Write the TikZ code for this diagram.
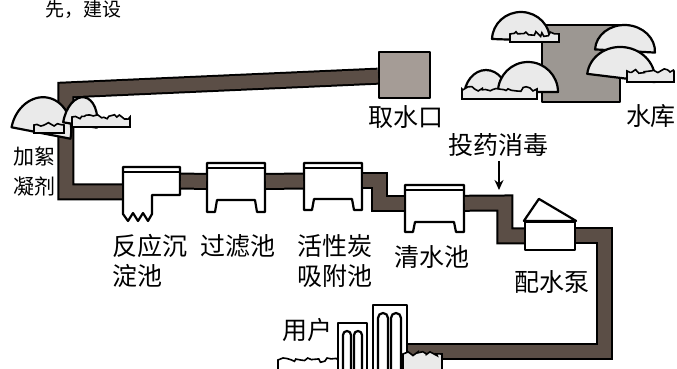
\documentclass[tikz,border=0pt]{standalone}
\usepackage{fontspec}
\newfontfamily\cjk{Noto Sans CJK SC}
\usetikzlibrary{arrows.meta, positioning, fit, decorations.pathmorphing}

\definecolor{brunTuyau}{HTML}{5B4E46}
\definecolor{grisPrise}{HTML}{A59C96}
\definecolor{grisLac}{HTML}{9C9792}
\definecolor{grisColline}{HTML}{EAEAEA}

% bassin : nom, x gauche, x droite, y haut, y fond, y bas des pieds
\newcommand{\bassin}[6]{%
	\filldraw[contour, fill=white] (#2,#4) -- (#2,#6) -- ++(8,0) -- (#2+10,#5)
		-- (#3-10,#5) -- (#3-8,#6) -- (#3,#6) -- (#3,#4) -- cycle;
	\draw[contour] (#2,#4+5) -- (#3,#4+5);
	\node[corps, fit={(#2,#4) (#3,#5)}] (#1) {};
}
% colline : centre x, base y, rayon x, rayon y, inclinaison
\newcommand{\colline}[5]{%
	\filldraw[contour, fill=grisColline, rotate around={-#5:(#1,#2)}] (#1-#3,#2)
		arc[start angle=180, end angle=360, x radius=#3, y radius=#4] -- cycle;
}
% buissons : x debut, x fin, base y, hauteur, couleur
\newcommand{\buissons}[5]{%
	\filldraw[buisson, fill=#5] (#1,#3) -- (#1,#3-#4)
		decorate{-- (#2,#3-#4)} -- (#2,#3) -- cycle;
}
% arche : x gauche, x droite, y sommet
\newcommand{\arche}[3]{%
	\draw[contour] (#1,375) -- (#1,{#3+(#2-#1)/2})
		arc[start angle=180, end angle=360, radius={(#2-#1)/2}] -- (#2,375);
}

\begin{document}
\begin{tikzpicture}[x=0.5pt, y=-0.5pt,
		contour/.style={draw=black, line width=1.1pt, line join=round},
		boite/.style={rectangle, contour, inner sep=0pt},
		corps/.style={rectangle, draw=none, inner sep=0pt, outer sep=0.5pt},
		tuyau/.style={draw=black, line width=1pt, double=brunTuyau, double distance=6.5pt},
		buisson/.style={draw=black, line width=0.8pt,
			decoration={random steps, segment length=1.6pt, amplitude=1.2pt}},
		etiquette/.style={font=\cjk\fontsize{12.5}{15}\selectfont, align=left, inner sep=0pt},
		]
		\useasboundingbox (0,0) rectangle (677,369);
		\pgfmathsetseed{7}
		
		% texte en haut
		\node[font=\cjk\fontsize{9.5}{12}\selectfont, inner sep=0pt] (phrase) at (84,9.5) {先，建设};
		
		% prise d'eau
		\node[boite, fill=grisPrise, minimum width=25.5pt, minimum height=23pt] (prise) at (404.5,75) {};
		
		% les bassins
		\filldraw[contour, fill=white] (123,167) -- (180,167) -- (180,195) -- (152,195) -- (152,214)
			-- (148,221) -- (143,213) -- (138,221) -- (133,213) -- (128,221) -- (123,214) -- cycle;
		\draw[contour] (123,172) -- (180,172);
		\node[corps, fit={(123,167) (180,195)}] (reac) {};
		\bassin{filtre}{207}{265}{163}{200}{212}
		\bassin{charbon}{304}{362}{163}{199}{210}
		\bassin{clair}{405}{464}{185}{222}{232}
		
		% pompe
		\node[boite, fill=white, minimum width=25pt, minimum height=14pt] (pompe) at (550,236) {};
		\filldraw[contour, fill=white] (pompe.north west) -- ++(15,-22) -- (pompe.north east) -- cycle;
		
		% immeubles
		\node[boite, fill=white, minimum width=14.5pt, minimum height=26pt] (bas) at (352.5,349) {};
		\node[boite, fill=white, minimum width=17pt, minimum height=35pt] (haut) at (390,340) {};
		
		% coudes des tuyaux
		\coordinate (coude1) at (66,90);
		\coordinate (coude2) at (66,192);
		\coordinate (marche1) at (380,181);
		\coordinate (marche2) at (505,203);
		\coordinate (coin) at (605,352);
		\coordinate (injection) at (499,190);
		
		% les tuyaux
		\draw[tuyau] (prise) -- (coude1) -- (coude2) -- (coude2 -| reac.west);
		\draw[tuyau] (reac) -- (filtre);
		\draw[tuyau] (filtre) -- (charbon);
		\draw[tuyau] (charbon) -- (marche1) |- (clair);
		\draw[tuyau] (clair) -- (marche2) |- (pompe);
		\draw[tuyau] (pompe) -| (coin) -- (coin -| haut.east);
		
		% collines devant le tuyau
		\colline{41}{133}{30}{36}{11}
		\buissons{34}{64}{133}{8}{grisColline}
		\colline{80}{125}{17}{28}{9}
		\buissons{72}{130}{127}{10}{grisColline}
		
		% réservoir et collines
		\node[boite, fill=grisLac, minimum width=39pt, minimum height=38.5pt] (lac) at (581,63.5) {};
		\colline{521}{40}{29}{28}{2}
		\buissons{510}{559}{42}{8}{grisColline}
		\colline{486}{97}{22}{27}{0}
		\colline{528}{92}{30}{30}{0}
		\buissons{462}{537}{99}{10}{grisColline}
		\colline{625}{51}{30}{26}{3}
		\colline{621}{78}{34}{31}{7}
		\buissons{627}{674}{82}{11}{grisColline}
		
		% fenêtres et buissons des immeubles
		\arche{343}{351}{331}
		\arche{354}{362}{331}
		\arche{378}{388}{313}
		\arche{391}{401}{313}
		\buissons{278}{338}{371}{11}{white}
		\buissons{403}{442}{371}{17}{grisColline}
		
		% les étiquettes
		\node[etiquette] (l-prise) at (406,117) {取水口};
		\node[etiquette] (l-lac) at (651,116) {水库};
		\node[etiquette, font=\cjk\fontsize{10.5}{15}\selectfont] (l-floc) at (34,171) {加絮\\凝剂};
		\node[etiquette] (l-reac) at (150,261) {反应沉\\淀池};
		\node[etiquette] (l-filtre) at (238,246) {过滤池};
		\node[etiquette] (l-charbon) at (335,261) {活性炭\\吸附池};
		\node[etiquette] (l-clair) at (432,257) {清水池};
		\node[etiquette] (l-pompe) at (552,282) {配水泵};
		\node[etiquette] (l-users) at (308,330) {用户};
		\node[etiquette] (desinf) at (499,145) {投药消毒};
		\draw[-{Stealth[length=5pt,width=4.5pt]}, line width=0.7pt, shorten <=2pt] (desinf) -- (injection);
	\end{tikzpicture}
\end{document}
